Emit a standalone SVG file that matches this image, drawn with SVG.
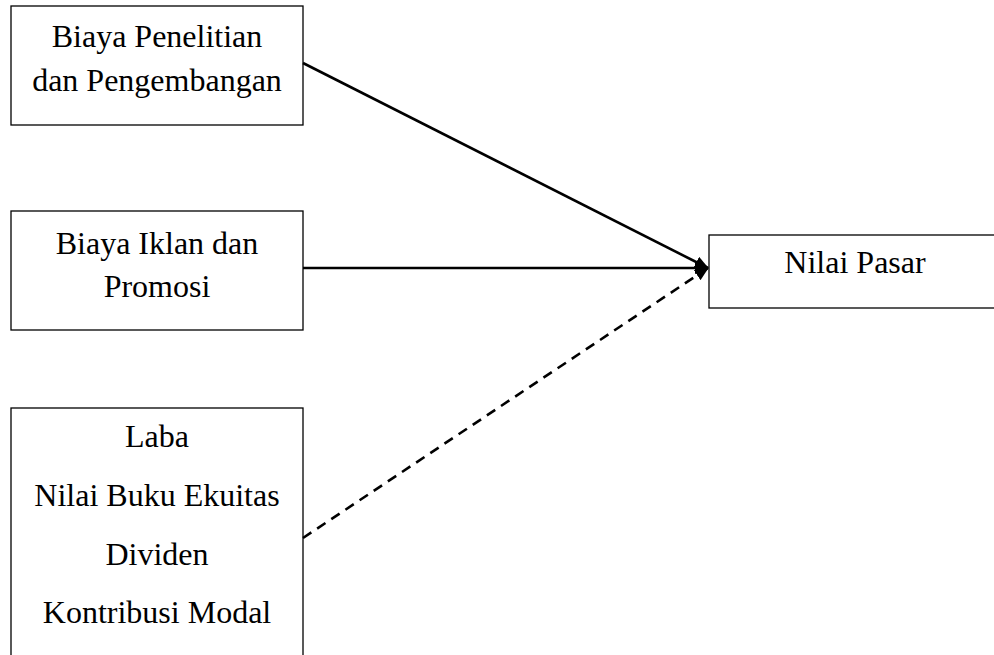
<svg xmlns="http://www.w3.org/2000/svg" width="994" height="655" viewBox="0 0 994 655">
<defs>
<style>
.box{fill:#fff;stroke:#000;stroke-width:1.3}
.t{font-family:"Liberation Serif","Times New Roman",serif;font-size:32px;fill:#000;text-anchor:middle}
.c{stroke:#000;stroke-width:2.6;fill:none}
.d{stroke-dasharray:10 7}
</style>
<marker id="ah" markerWidth="14" markerHeight="12" refX="13" refY="6" orient="auto" markerUnits="userSpaceOnUse">
<path d="M0,0 L14,6 L0,12 Z" fill="#000"/>
</marker>
</defs>
<rect width="994" height="655" fill="#fff"/>
<g id="n1">
<rect class="box" x="11" y="6" width="292" height="119"/>
<text class="t" x="157" y="47">Biaya Penelitian</text>
<text class="t" x="157" y="91">dan Pengembangan</text>
</g>
<g id="n2">
<rect class="box" x="11" y="211" width="292" height="119"/>
<text class="t" x="157" y="254">Biaya Iklan dan</text>
<text class="t" x="157" y="297">Promosi</text>
</g>
<g id="n3">
<rect class="box" x="11" y="408" width="292" height="260"/>
<text class="t" x="157" y="447">Laba</text>
<text class="t" x="157" y="506">Nilai Buku Ekuitas</text>
<text class="t" x="157" y="565">Dividen</text>
<text class="t" x="157" y="623">Kontribusi Modal</text>
</g>
<g id="n4">
<rect class="box" x="709" y="235" width="295" height="73"/>
<text class="t" x="855" y="273">Nilai Pasar</text>
</g>
<g id="connectors">
<line class="c" x1="303" y1="63" x2="708" y2="268" marker-end="url(#ah)"/>
<line class="c" x1="303" y1="268" x2="708" y2="268" marker-end="url(#ah)"/>
<line class="c d" x1="303" y1="538" x2="708" y2="268" marker-end="url(#ah)"/>
</g>
</svg>
